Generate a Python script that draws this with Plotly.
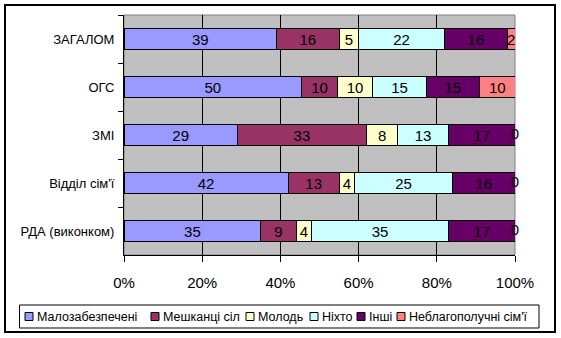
import plotly.graph_objects as go

categories = ["ЗАГАЛОМ", "ОГС", "ЗМІ", "Відділ сім'ї", "РДА (виконком)"]
series_names = ["Малозабезпечені", "Мешканці сіл", "Молодь", "Ніхто", "Інші", "Неблагополучні сім'ї"]
malozabezpecheni = [39, 50, 29, 42, 35]
meshkantsi_sil = [16, 10, 33, 13, 9]
molod = [5, 10, 8, 4, 4]
nikhto = [22, 15, 13, 25, 35]
inshi = [16, 15, 17, 16, 17]
neblahopoluchni = [2, 10, 0, 0, 0]
series_values = [malozabezpecheni, meshkantsi_sil, molod, nikhto, inshi, neblahopoluchni]
colors = ["#9999FF", "#993366", "#FFFFCC", "#CCFFFF", "#660066", "#FF8080"]
tick_vals = [0, 20, 40, 60, 80, 100]
tick_text = [f"{v}%" for v in tick_vals]

FONT = "Liberation Sans, Arial, sans-serif"

# plot-area geometry (pixels)
W, H = 561, 338
L, R, T, B = 124, 46, 15, 83
PW, PH = W - L - R, H - T - B


def px(x):
    return (x - L) / PW


def py(y):
    return (H - B - y) / PH


fig = go.Figure()
for name, vals, col in zip(series_names, series_values, colors):
    fig.add_trace(go.Bar(
        y=categories, x=vals, name=name, orientation="h",
        marker=dict(color=col, line=dict(color="black", width=1)),
        text=[str(v) if v != 0 else "" for v in vals], texttemplate="%{text}",
        textposition="inside", insidetextanchor="middle", textangle=0,
        textfont=dict(color="black", size=15, family=FONT),
        cliponaxis=False, showlegend=False,
    ))

# labels for zero-width segments, placed at their stacked (normalized) position
totals = [sum(s[i] for s in series_values) for i in range(len(categories))]
zx, zy, zt = [], [], []
for j, vals in enumerate(series_values):
    for i, v in enumerate(vals):
        if v == 0:
            cum = sum(series_values[k][i] for k in range(j + 1))
            zx.append(cum / totals[i] * 100)
            zy.append(categories[i])
            zt.append(str(v))
fig.add_trace(go.Scatter(x=zx, y=zy, text=zt, mode="text", textposition="middle center",
                         textfont=dict(color="black", size=15, family=FONT),
                         showlegend=False, cliponaxis=False, hoverinfo="skip"))

# custom legend (Excel-style compact)
legend_text_x = [35, 161, 256, 320, 367, 407]
legend_y = 316.5
shapes = [
    dict(type="rect", xref="paper", yref="paper", x0=0, x1=1, y0=0, y1=1,
         line=dict(color="#808080", width=1), layer="below"),
    dict(type="rect", xref="paper", yref="paper", x0=px(5), x1=px(555), y0=py(332), y1=py(5),
         line=dict(color="black", width=2), layer="above"),
    dict(type="rect", xref="paper", yref="paper", x0=px(19.5), x1=px(539), y0=py(328), y1=py(305),
         line=dict(color="black", width=1), fillcolor="white", layer="above"),
]
annotations = []
for name, col, tx in zip(series_names, colors, legend_text_x):
    shapes.append(dict(type="rect", xref="paper", yref="paper",
                       x0=px(tx - 10), x1=px(tx - 2), y0=py(legend_y + 4), y1=py(legend_y - 4),
                       line=dict(color="black", width=1), fillcolor=col, layer="above"))
    annotations.append(dict(xref="paper", yref="paper", x=px(tx), y=py(legend_y), text=name,
                            showarrow=False, xanchor="left", yanchor="middle",
                            font=dict(size=12.5, family=FONT, color="black")))

fig.update_layout(
    width=W, height=H,
    margin=dict(l=L, r=R, t=T, b=B, autoexpand=False),
    barmode="stack", barnorm="percent", bargap=0.58,
    plot_bgcolor="#C0C0C0", paper_bgcolor="white",
    font=dict(family=FONT, color="black"),
    uniformtext=dict(minsize=15, mode="show"),
    showlegend=False,
    xaxis=dict(range=[0, 100], tickvals=tick_vals, ticktext=tick_text,
               showgrid=True, gridcolor="black", gridwidth=1,
               showline=True, linecolor="black", linewidth=1,
               ticks="outside", ticklen=6, tickcolor="black", ticklabelstandoff=8,
               tickfont=dict(size=15, family=FONT), zeroline=False, fixedrange=True),
    yaxis=dict(autorange="reversed", showline=True, linecolor="black", linewidth=1,
               ticks="outside", ticklen=5, tickcolor="black", tickson="boundaries",
               showgrid=False, tickfont=dict(size=13, family=FONT), ticklabelstandoff=6),
    shapes=shapes,
    annotations=annotations,
)

fig.write_html("out.html")
